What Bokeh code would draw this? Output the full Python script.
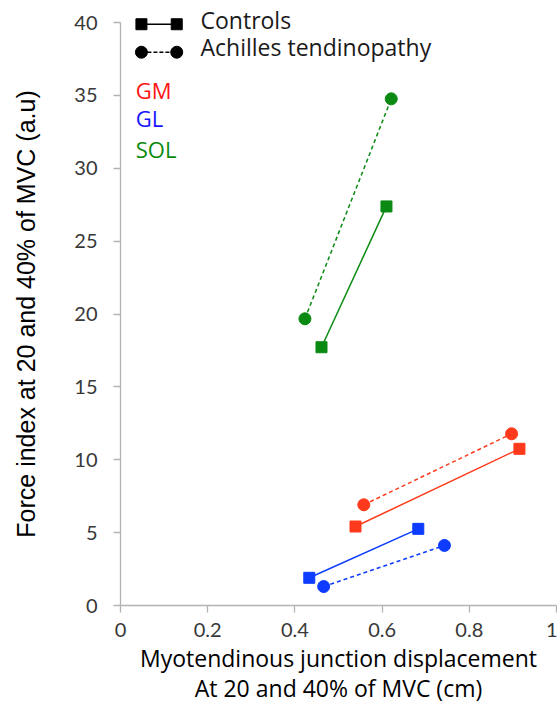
from bokeh.plotting import figure
from bokeh.models import SingleIntervalTicker, CustomJSTickFormatter, Range1d
from bokeh.core.properties import value
from bokeh.embed import file_html
from bokeh.resources import INLINE

# ---------------- data ----------------
muscles = ["GM", "GL", "SOL"]
muscle_colors = ["#ff3a1c", "#0d3cff", "#0a8a12"]
label_colors = ["#ff1414", "#1414ff", "#0c8a0c"]

# Controls (20% -> 40% MVC)
ctrl_x20 = [0.539, 0.433, 0.461]
ctrl_x40 = [0.915, 0.683, 0.610]
ctrl_y20 = [5.42, 1.90, 17.72]
ctrl_y40 = [10.75, 5.26, 27.38]

# Achilles tendinopathy (20% -> 40% MVC)
at_x20 = [0.558, 0.466, 0.423]
at_x40 = [0.897, 0.743, 0.621]
at_y20 = [6.91, 1.30, 19.67]
at_y40 = [11.78, 4.12, 34.76]

group_names = ["Controls", "Achilles tendinopathy"]

FONT = "Open Sans"
TFONT = "Lato"

p = figure(width=557, height=706, output_backend="svg", toolbar_location=None,
           x_range=Range1d(0, 1), y_range=Range1d(0, 40),
           min_border_left=120, min_border_right=1, min_border_top=22,
           min_border_bottom=101)
p.grid.visible = False
p.outline_line_color = None
p.background_fill_color = "white"
p.border_fill_color = "white"

# axes
p.xaxis.ticker = SingleIntervalTicker(interval=0.2)
p.yaxis.ticker = SingleIntervalTicker(interval=5)
p.xaxis.formatter = CustomJSTickFormatter(code="return String(Math.round(tick*10)/10);")
for ax in (p.xaxis[0], p.yaxis[0]):
    ax.axis_line_color = "#b3b3b3"
    ax.axis_line_width = 1.3
    ax.major_tick_line_color = "#b3b3b3"
    ax.major_tick_line_width = 1.3
    ax.major_tick_in = 0
    ax.major_tick_out = 7
    ax.minor_tick_line_color = None
    ax.major_label_text_font = TFONT
    ax.major_label_text_font_size = "20px"
    ax.major_label_text_color = "#383838"
    ax.axis_label_text_font_style = "normal"
    ax.axis_label_text_color = "black"

p.xaxis.axis_label = "Myotendinous junction displacement\nAt 20 and 40% of MVC (cm)"
p.xaxis.axis_label_text_font = FONT
p.xaxis.axis_label_text_font_size = "23px"
p.xaxis.axis_label_text_line_height = 0.95
p.xaxis.major_label_standoff = 10
p.xaxis.axis_label_standoff = 2
p.yaxis.axis_label = "Force index at 20 and 40% of MVC (a.u)"
p.yaxis.axis_label_text_font = "Liberation Sans"
p.yaxis.axis_label_text_font_size = "25px"
p.yaxis.major_label_standoff = 16
p.yaxis.axis_label_standoff = 31

# data lines
p.multi_line(xs=[[a, b] for a, b in zip(ctrl_x20, ctrl_x40)],
             ys=[[a, b] for a, b in zip(ctrl_y20, ctrl_y40)],
             line_color=muscle_colors, line_width=1.5)
p.multi_line(xs=[[a, b] for a, b in zip(at_x20, at_x40)],
             ys=[[a, b] for a, b in zip(at_y20, at_y40)],
             line_color=muscle_colors, line_width=1.5, line_dash="4 3")

p.scatter(ctrl_x20 + ctrl_x40, ctrl_y20 + ctrl_y40, marker="square", size=11,
          fill_color=muscle_colors * 2, line_color=muscle_colors * 2)
p.scatter(at_x20 + at_x40, at_y20 + at_y40, marker="circle", size=12,
          fill_color=muscle_colors * 2, line_color=muscle_colors * 2)

# ---------------- legend (decoration) ----------------
leg_x0, leg_x1 = 0.048, 0.129
leg_y = [39.88, 37.96]
leg_markers = ["square", "circle"]
leg_dash = ["solid", "4 2"]
leg_sizes = [11, 12]
for yy, mk, dsh, sz in zip(leg_y, leg_markers, leg_dash, leg_sizes):
    p.line([leg_x0, leg_x1], [yy, yy], line_color="black", line_width=1.3,
           line_dash=dsh, level="overlay")
    p.scatter([leg_x0, leg_x1], [yy, yy], marker=mk, size=sz, color="black",
              level="overlay")

leg_text_x = 0.1835
leg_text_y = [40.19, 38.34]
p.text(x=[leg_text_x] * 2, y=leg_text_y, text=group_names,
       text_font=value(FONT), text_font_size="23px", text_color="#1a1a1a",
       text_baseline="alphabetic", level="overlay")

mus_text_x = 0.035
mus_text_y = [35.38, 33.45, 31.35]
p.text(x=[mus_text_x] * 3, y=mus_text_y, text=muscles,
       text_font=value(FONT), text_font_size="22px", text_color=label_colors,
       text_baseline="alphabetic", level="overlay")

open("out.html", "w").write(file_html(p, INLINE))
